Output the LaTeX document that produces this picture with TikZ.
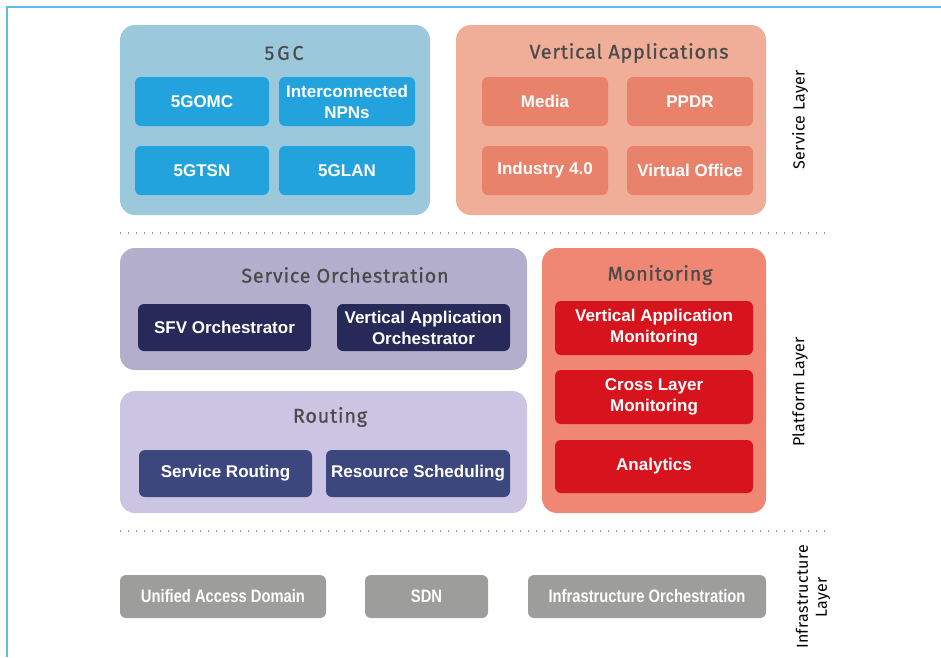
\documentclass[tikz,border=0pt]{standalone}
\usepackage{fontspec}
\usepackage{tikz}
\setmainfont{Liberation Sans}
\newfontfamily\titlefont[LetterSpace=4,FakeBold=0.8]{Fira Sans}
\newfontfamily\widetitlefont[LetterSpace=14,FakeBold=0.8]{Fira Sans}
\newfontfamily\layerfont[LetterSpace=2]{Fira Sans}
\newfontfamily\narrowfont[FakeStretch=0.82]{Liberation Sans}
\definecolor{framecol}{RGB}{90,190,230}
\definecolor{gcbg}{RGB}{155,201,219}
\definecolor{gcin}{RGB}{35,163,221}
\definecolor{vabg}{RGB}{240,174,152}
\definecolor{vain}{RGB}{232,130,106}
\definecolor{sobg}{RGB}{179,174,203}
\definecolor{soin}{RGB}{39,41,88}
\definecolor{rtbg}{RGB}{203,196,226}
\definecolor{rtin}{RGB}{60,71,125}
\definecolor{monbg}{RGB}{240,134,116}
\definecolor{monin}{RGB}{215,20,29}
\definecolor{infcol}{RGB}{157,157,156}
\definecolor{titlecol}{RGB}{75,75,75}
\tikzstyle{group}=[rectangle, rounded corners=15pt, inner sep=0pt]
\tikzstyle{block}=[rectangle, rounded corners=6pt, inner sep=0pt, text=white, align=center, font=\fontsize{17}{21}\selectfont\bfseries]
\tikzstyle{infblock}=[rectangle, rounded corners=6pt, inner sep=0pt, fill=infcol, text=white, font=\fontsize{18}{21}\selectfont\narrowfont\bfseries]
\tikzstyle{grouptitle}=[text=titlecol, font=\fontsize{19.8}{23}\selectfont\titlefont]
\tikzstyle{layer}=[rotate=90, align=center, font=\fontsize{16}{19}\selectfont\layerfont]
\tikzstyle{sep}=[gray!80, line width=1.3pt, dash pattern=on 1.3pt off 6.7pt]

\begin{document}
\begin{tikzpicture}[x=1pt, y=-1pt]
		   \useasboundingbox (0, 0) rectangle (941, 657);
		   \begin{scope}
			   \coordinate (f1) at (7, 657);
			   \coordinate (f2) at (7, 7);
			   \coordinate (f3) at (941, 7);
			   \draw [framecol, line width=1.5pt] (f1) -- (f2) -- (f3);
		   \end{scope}
		   \begin{scope}
			   \node (gc) at (275, 120)[group, fill=gcbg, minimum width=310pt, minimum height=190pt] {};
			   \node (gct) at (284, 53)[grouptitle, font=\fontsize{19.8}{23}\selectfont\widetitlefont] {5GC};
			   \node (omc) at (202, 101.5)[block, fill=gcin, minimum width=134pt, minimum height=49pt] {5GOMC};
			   \node (npn) at (347, 101.5)[block, fill=gcin, minimum width=136pt, minimum height=49pt] {Interconnected\\NPNs};
			   \node (tsn) at (202, 170.5)[block, fill=gcin, minimum width=134pt, minimum height=49pt] {5GTSN};
			   \node (lan) at (347, 170.5)[block, fill=gcin, minimum width=136pt, minimum height=49pt] {5GLAN};
		   \end{scope}
		   \begin{scope}
			   \node (va) at (611, 120)[group, fill=vabg, minimum width=310pt, minimum height=190pt] {};
			   \node (vat) at (629, 53)[grouptitle] {Vertical Applications};
			   \node (media) at (545, 101.5)[block, fill=vain, minimum width=126pt, minimum height=49pt] {Media};
			   \node (ppdr) at (690, 101.5)[block, fill=vain, minimum width=126pt, minimum height=49pt] {PPDR};
			   \node (ind) at (545, 170.5)[block, fill=vain, minimum width=126pt, minimum height=49pt] {Industry 4.0};
			   \node (vo) at (690, 170.5)[block, fill=vain, minimum width=126pt, minimum height=49pt] {Virtual Office};
		   \end{scope}
		   \begin{scope}
			   \node (so) at (323.5, 309)[group, fill=sobg, minimum width=407pt, minimum height=122pt] {};
			   \node (sot) at (345, 275)[grouptitle] {Service Orchestration};
			   \node (sfv) at (224.5, 327.5)[block, fill=soin, minimum width=173pt, minimum height=47pt] {SFV Orchestrator};
			   \node (vao) at (423.5, 327.5)[block, fill=soin, minimum width=173pt, minimum height=47pt] {Vertical Application\\Orchestrator};
		   \end{scope}
		   \begin{scope}
			   \node (rt) at (323.5, 452)[group, fill=rtbg, minimum width=407pt, minimum height=122pt] {};
			   \node (rtt) at (330, 417)[grouptitle] {Routing};
			   \node (sr) at (225.5, 473.5)[block, fill=rtin, minimum width=173pt, minimum height=47pt] {Service Routing};
			   \node (rs) at (418, 473.5)[block, fill=rtin, minimum width=184pt, minimum height=47pt] {Resource Scheduling};
		   \end{scope}
		   \begin{scope}
			   \node (mon) at (654, 380.5)[group, fill=monbg, minimum width=224pt, minimum height=265pt] {};
			   \node (mont) at (660, 275)[grouptitle] {Monitoring};
			   \node (vam) at (654, 328)[block, fill=monin, minimum width=198pt, minimum height=54pt] {Vertical Application\\Monitoring};
			   \node (clm) at (654, 397)[block, fill=monin, minimum width=198pt, minimum height=54pt] {Cross Layer\\Monitoring};
			   \node (an) at (654, 466.5)[block, fill=monin, minimum width=198pt, minimum height=53pt] {Analytics};
		   \end{scope}
		   \begin{scope}
			   \node (uad) at (223, 596.5)[infblock, minimum width=206pt, minimum height=43pt] {Unified Access Domain};
			   \node (sdn) at (426.5, 596.5)[infblock, minimum width=123pt, minimum height=43pt] {SDN};
			   \node (io) at (647, 596.5)[infblock, minimum width=238pt, minimum height=43pt] {Infrastructure Orchestration};
		   \end{scope}
		   \begin{scope}
			   \coordinate (s1) at (120, 233);
			   \coordinate (s2) at (828, 233);
			   \coordinate (s3) at (120, 531);
			   \coordinate (s4) at (828, 531);
			   \draw [sep] (s1) -- (s2);
			   \draw [sep] (s3) -- (s4);
		   \end{scope}
		   \begin{scope}
			   \node (sl) at (800, 120)[layer] {Service Layer};
			   \node (pl) at (800, 392)[layer] {Platform Layer};
			   \node (il) at (813, 597)[layer] {Infrastructure\\Layer};
		   \end{scope}
	   \end{tikzpicture}
\end{document}
